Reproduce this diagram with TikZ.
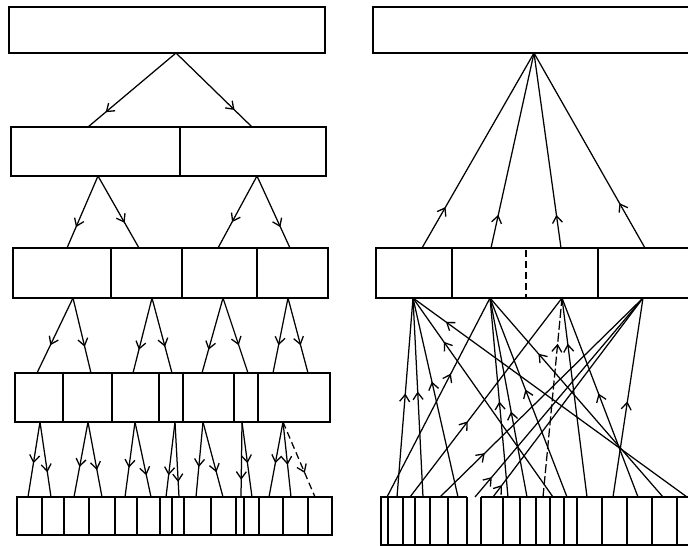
\documentclass[tikz,border=0pt]{standalone}
\usetikzlibrary{arrows.meta,decorations.markings}
\tikzset{
  boxline/.style={line width=1.6pt, line join=miter},
  conn/.style={line width=1.25pt},
  arrowat/.style={conn, postaction={decorate}, decoration={markings,
      mark=at position #1 with {\arrow{Straight Barb[length=7pt,width=10pt,line width=1.3pt]}}}},
}
\begin{document}
\begin{tikzpicture}[x=1pt,y=-1pt]
\useasboundingbox (0,0) rectangle (688,546);

% ================= LEFT SIDE =================
% boxes
\draw[boxline] (9,7) rectangle (325,53);
\draw[boxline] (11,127) rectangle (326,176);
\draw[boxline] (180,127) -- (180,176);
\draw[boxline] (13,248) rectangle (328,298);
\foreach \x in {111,182,257} \draw[boxline] (\x,248) -- (\x,298);
\draw[boxline] (15,373) rectangle (330,422);
\foreach \x in {63,112,159,183,234,258} \draw[boxline] (\x,373) -- (\x,422);
\draw[boxline] (17,497) rectangle (332,535);
\foreach \x in {42,64,89,115,137,160,172,184,211,236,244,259,283,308} \draw[boxline] (\x,497) -- (\x,535);

% level 1 -> 2
\coordinate (L0) at (176,53);
\coordinate (L1a) at (88,127);
\coordinate (L1b) at (252,127);
\draw[arrowat=0.8] (L0) -- (L1a);
\draw[arrowat=0.77] (L0) -- (L1b);

% level 2 -> 3
\coordinate (P1) at (98,176);
\coordinate (P2) at (257,176);
\foreach \ap/\ex/\t [count=\k] in {P1/67/0.71, P1/139/0.65, P2/218/0.64, P2/290/0.71}{
  \coordinate (E3\k) at (\ex,248);
  \draw[arrowat=\t] (\ap) -- (E3\k);
}

% level 3 -> 4
\foreach \k/\x in {1/73,2/152,3/223,4/288} \coordinate (Q\k) at (\x,298);
\foreach \ap/\ex/\t [count=\k] in {Q1/37/0.63, Q1/91/0.65, Q2/133/0.69, Q2/172/0.65,
    Q3/202/0.69, Q3/248/0.63, Q4/273/0.63, Q4/308/0.63}{
  \coordinate (E4\k) at (\ex,373);
  \draw[arrowat=\t] (\ap) -- (E4\k);
}

% level 4 -> 5
\foreach \k/\x in {1/40,2/88,3/135,4/175,5/203,6/242,7/283} \coordinate (R\k) at (\x,422);
\foreach \ap/\ex/\t [count=\k] in {R1/28/0.55, R1/51/0.67, R2/74/0.6, R2/102/0.64,
    R3/125/0.61, R3/151/0.71, R4/166/0.71, R4/179/0.8, R5/196/0.6, R5/223/0.67,
    R6/241/0.77, R6/252/0.55, R7/269/0.55, R7/291/0.57}{
  \coordinate (E5\k) at (\ex,497);
  \draw[arrowat=\t] (\ap) -- (E5\k);
}
\coordinate (E5x) at (315,497);
\draw[arrowat=0.68, dash pattern=on 7pt off 4pt] (R7) -- (E5x);

% ================= RIGHT SIDE =================
\draw[boxline] (690,7) -- (373,7) -- (373,53) -- (690,53);
\draw[boxline] (690,248) -- (376,248) -- (376,298) -- (690,298);
\draw[boxline] (452,248) -- (452,298);
\draw[boxline] (598,248) -- (598,298);
\draw[line width=1.2pt, dash pattern=on 7pt off 4pt] (526,250) -- (526,298);

% bottom row
\draw[boxline] (467,497) -- (381,497) -- (381,545) -- (690,545);
\draw[boxline] (481,497) -- (690,497);
\foreach \x in {388,403,415,430,448,467,481,503,520,536,550,564,577,602,627,652,677}
  \draw[boxline] (\x,497) -- (\x,545);

% level 2 -> top
\coordinate (T0) at (534,53);
\foreach \x/\t [count=\k] in {422/0.21, 491/0.17, 561/0.17, 645/0.23}{
  \coordinate (U\k) at (\x,248);
  \draw[arrowat=\t] (U\k) -- (T0);
}

% bottom -> level 2
\coordinate (A1) at (413,298);
\coordinate (A2) at (490,298);
\coordinate (A3) at (562,298);
\coordinate (A4) at (643,298);
\foreach \bx/\ap/\t [count=\k] in {397/A1/0.52, 423/A1/0.53, 458/A1/0.58, 553/A1/0.78, 687/A1/0.88,
    387/A2/0.62, 508/A2/0.48, 527/A2/0.43, 567/A2/0.54, 663/A2/0.72,
    410/A3/0.38, 587/A3/0.77, 638/A3/0.52,
    440/A4/0.22, 475/A4/0.10, 493/A4/0.06, 613/A4/0.48}{
  \coordinate (B\k) at (\bx,497);
  \draw[arrowat=\t] (B\k) -- (\ap);
}
\coordinate (Bd) at (543,497);
\draw[arrowat=0.77, dash pattern=on 9pt off 3pt] (Bd) -- (A3);
\end{tikzpicture}
\end{document}
